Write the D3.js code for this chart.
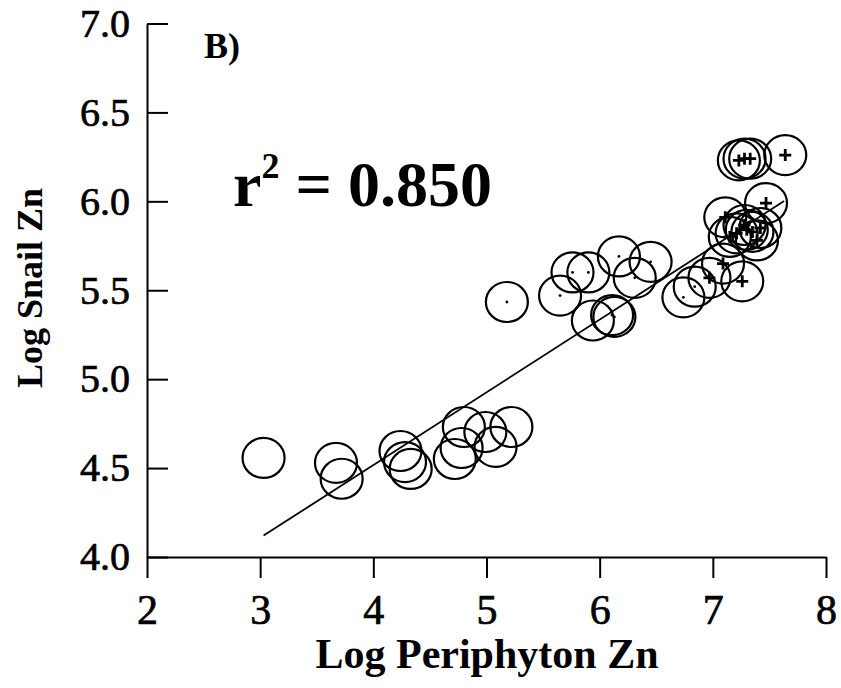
<!DOCTYPE html>
<html><head><meta charset="utf-8">
<script src="https://cdn.jsdelivr.net/npm/d3@7"></script>
<style>body{margin:0;background:#fff;} svg{display:block;}</style>
</head><body>
<script>
// Data
const periphytonZn = [3.03,3.67,3.72,4.24,4.28,4.33,4.80,4.72,4.78,4.99,5.08,5.22,
  5.18,5.65,5.76,5.90,6.17,6.45,6.31,5.94,6.13,6.11,6.74,6.84,
  6.97,7.26,7.09,7.11,7.47,7.28,7.35,7.42,7.21,7.15,7.39,7.30,
  7.23,7.28,7.33,7.64];
const snailZn = [4.557,4.529,4.44,4.596,4.534,4.495,4.731,4.551,4.613,4.703,4.619,4.731,
  5.434,5.47,5.60,5.60,5.69,5.66,5.57,5.33,5.35,5.36,5.46,5.52,
  5.57,5.55,5.65,5.91,5.99,5.867,5.828,5.85,5.82,5.80,5.78,5.84,
  6.23,6.24,6.24,6.26];
const centerMark = ["none","none","none","none","none","none","none","none","none","none","none","none",
  "dot","dot","dot","dot","dot","dot","dot","dot","dot","dot","dot","dot",
  "plus","plus","plus","plus","plus","plus","plus","plus","plus","plus","plus","plus",
  "plus","plus","plus","plus"];
const xTicks = [2,3,4,5,6,7,8];
const yTicks = [4.0,4.5,5.0,5.5,6.0,6.5,7.0];
const fitIntercept = 2.881, fitSlope = 0.409;
const fitRange = [3.03, 7.63];
const rSquared = "0.850";
const panelLabel = "B)";
const xTitle = "Log Periphyton Zn";
const yTitle = "Log Snail Zn";

const W = 841, H = 688;
const svg = d3.select("body").append("svg").attr("width", W).attr("height", H);
const x = d3.scaleLinear().domain([2,8]).range([147,826]);
const y = d3.scaleLinear().domain([4,7]).range([557,23.5]);
const font = "'Liberation Serif','Times New Roman',serif";

// X axis
const gx = svg.append("g").attr("transform", `translate(0,${y(4)})`)
  .call(d3.axisBottom(x).tickValues(xTicks).tickFormat(d3.format("d")).tickSize(21).tickSizeOuter(0).tickPadding(16));
gx.select(".domain").attr("stroke-width", 2);
gx.selectAll(".tick line").attr("stroke-width", 2);
gx.selectAll("text").attr("font-family", font).attr("font-size", 42).attr("fill", "#000")
  .attr("stroke", "#000").attr("stroke-width", 0.7);

// Y axis
const gy = svg.append("g").attr("transform", `translate(${x(2)},0)`)
  .call(d3.axisLeft(y).tickValues(yTicks).tickFormat(d3.format(".1f")).tickSize(-21).tickSizeOuter(0).tickPadding(17));
gy.select(".domain").attr("stroke-width", 2);
gy.selectAll(".tick line").attr("stroke-width", 2);
gy.selectAll("text").attr("font-family", font).attr("font-size", 40).attr("fill", "#000")
  .attr("stroke", "#000").attr("stroke-width", 0.7);

// Regression line
svg.append("line")
  .attr("x1", x(fitRange[0])).attr("y1", y(fitIntercept + fitSlope*fitRange[0]))
  .attr("x2", x(fitRange[1])).attr("y2", y(fitIntercept + fitSlope*fitRange[1]))
  .attr("stroke", "#000").attr("stroke-width", 1.8);

// Points
const pts = periphytonZn.map((v,i)=>({x:v, y:snailZn[i], m:centerMark[i]}));
svg.append("g").selectAll("ellipse").data(pts).join("ellipse")
  .attr("cx", d=>x(d.x)).attr("cy", d=>y(d.y)).attr("rx", 21).attr("ry", 20)
  .attr("fill", "none").attr("stroke", "#000").attr("stroke-width", 2.2);
svg.append("g").selectAll("circle").data(pts.filter(d=>d.m==="dot")).join("circle")
  .attr("cx", d=>x(d.x)).attr("cy", d=>y(d.y)).attr("r", 1.4).attr("fill", "#000");
svg.append("g").selectAll("path").data(pts.filter(d=>d.m==="plus")).join("path")
  .attr("d", d=>{const cx=x(d.x), cy=y(d.y); return `M${cx-6},${cy}H${cx+6}M${cx},${cy-6}V${cy+6}`;})
  .attr("stroke", "#000").attr("stroke-width", 2.8);

// Texts
svg.append("text").attr("x", 204).attr("y", 58).attr("font-family", font).attr("font-weight", "bold")
  .attr("font-size", 36).text(panelLabel);
const rt = svg.append("text").attr("x", 233).attr("y", 206).attr("font-family", font).attr("font-weight", "bold")
  .attr("font-size", 64);
rt.append("tspan").text("r");
rt.append("tspan").attr("font-size", 36).attr("dy", -28).text("2");
rt.append("tspan").attr("dy", 28).text(" = " + rSquared);

svg.append("text").attr("x", 487).attr("y", 668).attr("text-anchor", "middle")
  .attr("font-family", font).attr("font-weight", "bold").attr("font-size", 42).text(xTitle);
svg.append("text").attr("transform", `translate(42,288) rotate(-90)`).attr("text-anchor", "middle")
  .attr("font-family", font).attr("font-weight", "bold").attr("font-size", 36).text(yTitle);
</script>
</body></html>
